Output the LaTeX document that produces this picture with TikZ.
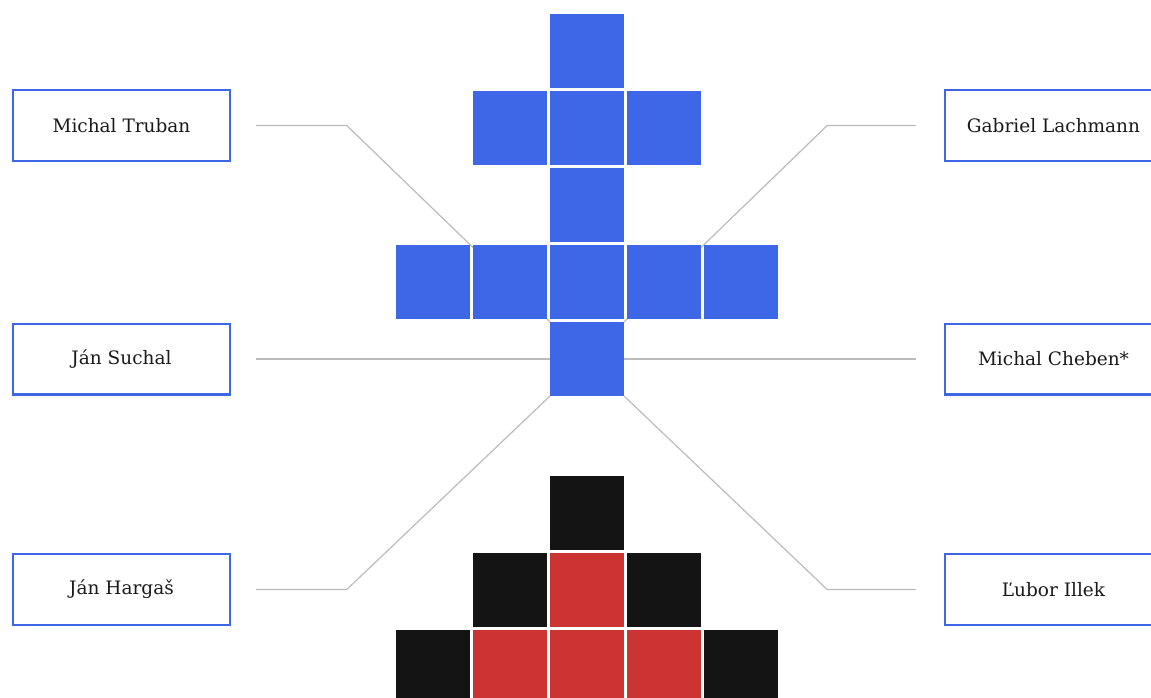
\documentclass[tikz,border=0pt]{standalone}
\usepackage{fontspec}
\setmainfont{DejaVu Serif}
\usepackage{tikz}
\usetikzlibrary{positioning,backgrounds}
\definecolor{ink}     {HTML}{1A1A1A}
\definecolor{royal}   {HTML}{3D67E6}
\definecolor{crimson} {HTML}{CC3333}
\definecolor{coal}    {HTML}{141414}
\definecolor{wire}    {HTML}{BBBBBB}
\tikzset{
  every node/.style={font=\fontsize{18.5}{22}\selectfont, text=ink},
  % --- nodes
  cell/.style   = {minimum size=74pt, inner sep=0pt, outer sep=0pt},
  bluecell/.style = {cell, fill=royal},
  redcell/.style  = {cell, fill=crimson},
  blackcell/.style= {cell, fill=coal},
  namebox/.style = {draw=royal, line width=2.4pt, fill=white, minimum width=216.6pt,
                   minimum height=70.6pt, inner sep=0pt, outer sep=0pt},
  % --- edges
  lead/.style   = {draw=wire, line width=1.2pt},
}

\begin{document}
\begin{tikzpicture}[x=1pt,y=-1pt]
  \useasboundingbox (0,0) rectangle (1151,697);
  % the pixel figure
  \foreach \col/\row in {2/0, 1/1, 2/1, 3/1, 2/2, 0/3, 1/3, 2/3, 3/3, 4/3, 2/4}
    \node[bluecell] (b-\col-\row) at (433+77*\col, 51+77*\row) {};
  \foreach \col/\row in {2/6, 1/7, 3/7, 0/8, 4/8}
    \node[blackcell] (k-\col-\row) at (433+77*\col, 51+77*\row) {};
  \foreach \col/\row in {2/7, 1/8, 2/8, 3/8}
    \node[redcell] (r-\col-\row) at (433+77*\col, 51+77*\row) {};
  % names
  \node[namebox] (truban)   at (121.5,125.5)  {Michal Truban};
  \node[namebox] (suchal)   at (121.5,359)    {Ján Suchal};
  \node[namebox] (hargas)   at (121.5,589.5)  {Ján Hargaš};
  \node[namebox] (lachmann) at (1053.5,125.5) {Gabriel Lachmann};
  \node[namebox] (cheben)   at (1053.5,359)   {Michal Cheben*};
  \node[namebox] (illek)    at (1053.5,589.5) {Ľubor Illek};
  % leads, behind the cells
  \begin{scope}[on background layer]
    \draw[lead] ([xshift=26pt]truban.east) -- ++(91,0) -- (b-2-4.north west);
    \draw[lead] ([xshift=-29pt]lachmann.west) -- ++(-89,0) -- (b-2-4.north east);
    \draw[lead] ([xshift=26pt]suchal.east) -- (b-2-4.west);
    \draw[lead] ([xshift=-29pt]cheben.west) -- (b-2-4.east);
    \draw[lead] ([xshift=26pt]hargas.east) -- ++(91,0) -- (b-2-4.south west);
    \draw[lead] ([xshift=-29pt]illek.west) -- ++(-89,0) -- (b-2-4.south east);
  \end{scope}
\end{tikzpicture}
\end{document}
